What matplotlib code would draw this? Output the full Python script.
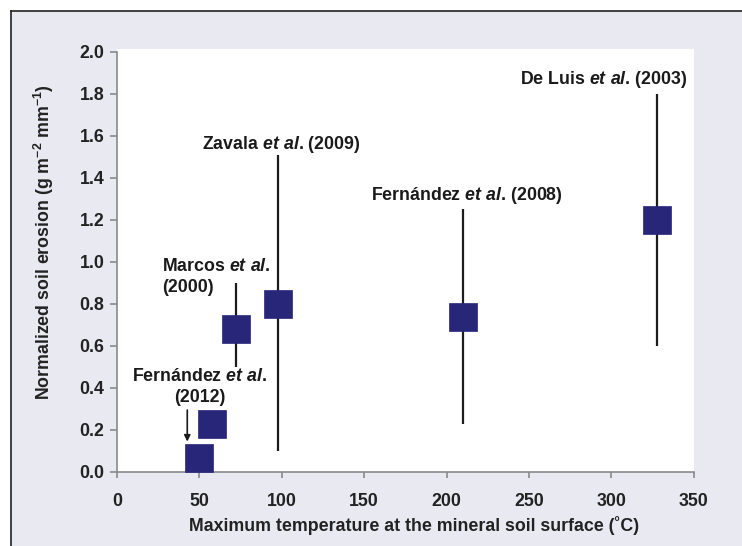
import matplotlib
matplotlib.use("Agg")
import matplotlib.pyplot as plt
import numpy as np
from matplotlib.lines import Line2D
from matplotlib.patches import Rectangle

# ---------------- data ----------------
temperature = [50, 58, 72.5, 98, 210, 328]          # deg C
erosion = [0.065, 0.23, 0.68, 0.80, 0.74, 1.20]      # g m-2 mm-1
range_low = [np.nan, np.nan, 0.50, 0.10, 0.23, 0.60]
range_high = [np.nan, np.nan, 0.90, 1.51, 1.25, 1.80]

x_ticks = [0, 50, 100, 150, 200, 250, 300, 350]
y_ticks = [0.0, 0.2, 0.4, 0.6, 0.8, 1.0, 1.2, 1.4, 1.6, 1.8, 2.0]

x_label = "Maximum temperature at the mineral soil surface (˚C)"
y_label = r"Normalized soil erosion (g m$^{-2}$ mm$^{-1}$)"

study_labels = [
    r"De Luis $\mathit{et\ al}$. (2003)",
    r"Fernández $\mathit{et\ al}$. (2008)",
    r"Zavala $\mathit{et\ al}$. (2009)",
    "Marcos $\\mathit{et\\ al}$.\n(2000)",
    "Fernández $\\mathit{et\\ al}$.\n(2012)",
]

# ---------------- style ----------------
plt.rcParams["font.family"] = ["Liberation Sans", "DejaVu Sans"]
plt.rcParams["font.weight"] = "bold"
plt.rcParams["axes.labelweight"] = "bold"
plt.rcParams["mathtext.fontset"] = "custom"
plt.rcParams["mathtext.rm"] = "Liberation Sans:bold"
plt.rcParams["mathtext.bf"] = "Liberation Sans:bold"
plt.rcParams["mathtext.it"] = "Liberation Sans:italic:bold"
plt.rcParams["mathtext.default"] = "rm"

W, H = 742, 546
BG = "#E9E9F1"
NAVY = "#282679"
GREY = "#8a8a8a"
FS = 12.8

fig = plt.figure(figsize=(W / 100, H / 100), dpi=100)
fig.patch.set_facecolor("white")

# lavender panel with frame on top/left
fig.patches.append(Rectangle((11 / W, 0), 1, 1 - 11 / H, transform=fig.transFigure,
                             facecolor=BG, edgecolor="none", zorder=-10))
fig.lines.append(Line2D([11 / W, 1], [1 - 11 / H, 1 - 11 / H], transform=fig.transFigure,
                        color="#222222", lw=1.2, zorder=-9))
fig.lines.append(Line2D([11 / W, 11 / W], [0, 1 - 11 / H], transform=fig.transFigure,
                        color="#222222", lw=1.2, zorder=-9))

ax = fig.add_axes([116.9 / W, (H - 472) / H, (693.7 - 116.9) / W, (472 - 48.6) / H])
ax.set_facecolor("white")
ax.set_xlim(0, 350)
ax.set_ylim(0, 2.016)

for s in ("top", "right"):
    ax.spines[s].set_visible(False)
for s in ("left", "bottom"):
    ax.spines[s].set_color(GREY)
    ax.spines[s].set_linewidth(1.2)
ax.spines["left"].set_bounds(0, 2.0)

ax.set_xticks(x_ticks)
ax.set_yticks(y_ticks)
ax.set_yticklabels([f"{v:.1f}" for v in y_ticks])
ax.tick_params(axis="x", direction="out", length=4, width=1.2, color=GREY,
               labelsize=FS, pad=11, labelcolor="#222222")
ax.tick_params(axis="y", direction="out", length=5, width=1.2, color=GREY,
               labelsize=FS, pad=4, labelcolor="#222222")

# range bars and squares
for t, lo, hi in zip(temperature, range_low, range_high):
    if not np.isnan(lo):
        ax.vlines(t, lo, hi, color="#1c1c1c", lw=1.6, zorder=2)
ax.plot(temperature, erosion, linestyle="none", marker="s", markersize=20.5,
        markerfacecolor=NAVY, markeredgecolor=NAVY, markeredgewidth=0.5,
        zorder=3, clip_on=False)

tc = "#1a1a1a"
ax.text(295.6, 1.87, study_labels[0], ha="center", va="center", fontsize=FS, color=tc)
ax.text(270.7, 1.315, study_labels[1], ha="right", va="center", fontsize=FS, color=tc)
ax.text(99.6, 1.56, study_labels[2], ha="center", va="center", fontsize=FS, color=tc)
ax.text(27.2, 0.93, study_labels[3], ha="left", va="center", fontsize=FS, color=tc,
        multialignment="left", linespacing=1.3)
ax.text(50.4, 0.405, study_labels[4], ha="center", va="center", fontsize=FS, color=tc,
        multialignment="center", linespacing=1.3)
ax.annotate("", xy=(42.7, 0.145), xytext=(42.7, 0.295),
            arrowprops=dict(arrowstyle="-|>", color="#1a1a1a", lw=1.2,
                            mutation_scale=9, shrinkA=0, shrinkB=0))

ax.set_xlabel(x_label, fontsize=FS, color="#222222", fontweight="bold")
ax.xaxis.set_label_coords(0.515, -0.103)
ax.set_ylabel(y_label, fontsize=FS, color="#222222", fontweight="bold")
ax.yaxis.set_label_coords(-0.1055, 0.543)

fig.savefig("out.png", dpi=100, facecolor=fig.get_facecolor())
